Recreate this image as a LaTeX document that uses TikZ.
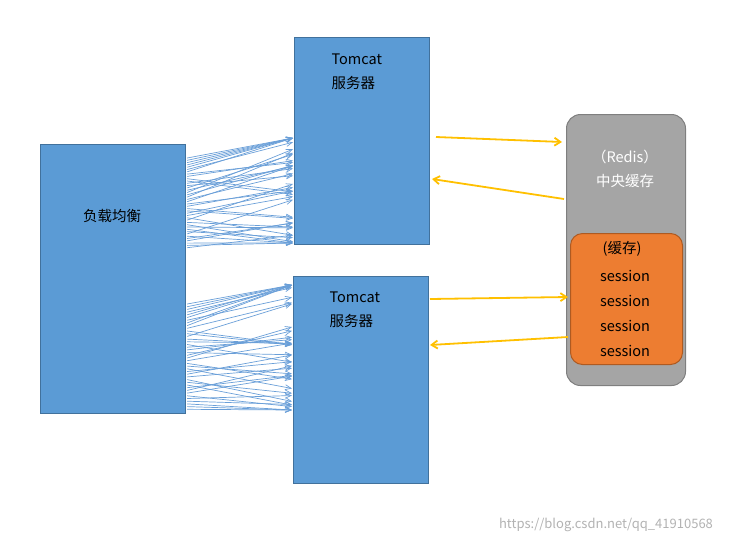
\documentclass[tikz,border=0pt]{standalone}
\usepackage{fontspec}
\setmainfont{Noto Sans CJK SC}
\usetikzlibrary{arrows.meta,calc}
\definecolor{bfill}{HTML}{5B9BD5}
\definecolor{bdraw}{HTML}{41719C}
\definecolor{gfill}{HTML}{A5A5A5}
\definecolor{gdraw}{HTML}{7F7F7F}
\definecolor{ofill}{HTML}{ED7D31}
\definecolor{odraw}{HTML}{AE5A21}
\definecolor{yarr}{HTML}{FFC000}
\definecolor{fan}{HTML}{6A9FD8}
\begin{document}
\begin{tikzpicture}[x=1pt,y=-1pt,font=\fontsize{14.5}{24}\selectfont,
  box/.style={draw=bdraw,fill=bfill,line width=1.2pt,anchor=north west,inner sep=0},
  yl/.style={draw=yarr,line width=1.8pt,-{Straight Barb[length=6pt,width=8pt]}},
  fa/.style={draw=fan,line width=0.7pt,-{Straight Barb[length=6pt,width=5pt]}}]
\useasboundingbox (0,0) rectangle (738,544);
\node[box,minimum width=145pt,minimum height=269pt] (lb) at (40,144) {};
\node[box,minimum width=135pt,minimum height=207pt] (t1) at (294,37) {};
\node[box,minimum width=135pt,minimum height=207pt] (t2) at (293,276) {};
\node[draw=gdraw,fill=gfill,rounded corners=14pt,line width=1pt,anchor=north west,minimum width=119pt,minimum height=271pt,inner sep=0] (rd) at (566,114) {};
\node[draw=odraw,fill=ofill,rounded corners=12pt,line width=1pt,anchor=north west,minimum width=112pt,minimum height=131pt,inner sep=0] (or) at (570,233) {};
\node (lbt) at (112,216) {负载均衡};
\node[align=left,anchor=west] (t1t) at (328,72) {Tomcat\\服务器};
\node[align=left,anchor=west] (t2t) at (326,310) {Tomcat\\服务器};
\node[white] (r1) at (625,157) {（Redis）};
\node[white] (r2) at (625,181) {中央缓存};
\node (o1) at (622,249) {(缓存)};
\foreach \y/\n in {276/a,301/b,326/c,351/d} \node (s\n) at (625,\y) {session};
\node[text=gray!60,font=\fontsize{13}{14}\selectfont] (wm) at (606,525) {https://blog.csdn.net/qq\_41910568};
\foreach \i in {0,...,39}{
  \pgfmathsetmacro\ra{mod(\i*37+mod(\i*\i,41)*11+5,41)/40-0.5}
  \pgfmathsetmacro\rb{mod(\i*23+mod(\i*\i,43)*7+13,43)/42-0.5}
  \pgfmathsetmacro\sa{14+\i*2.3}
  \pgfmathsetmacro\ea{max(101,min(206,(\sa-14)*1.15+101+\ra*60))}
  \pgfmathsetmacro\sb{160+\i*2.7}
  \pgfmathsetmacro\eb{max(9,min(134,(\sb-160)*1.2+9+\rb*60))}
  \coordinate (fa\i) at ($(lb.north east)+(1,\sa)$);
  \coordinate (fb\i) at ($(t1.north west)+(-1,\ea)$);
  \coordinate (ga\i) at ($(lb.north east)+(1,\sb)$);
  \coordinate (gb\i) at ($(t2.north west)+(-1,\eb)$);
  \draw[fa] (fa\i) -- (fb\i);
  \draw[fa] (ga\i) -- (gb\i);
}
\coordinate (y1a) at (436,137); \coordinate (y1b) at (562,142);
\coordinate (y2a) at (564,199); \coordinate (y2b) at (432,179);
\coordinate (y3a) at (430,299); \coordinate (y3b) at (568,297);
\coordinate (y4a) at (568,337); \coordinate (y4b) at (430,345);
\draw[yl] (y1a) -- (y1b);
\draw[yl] (y2a) -- (y2b);
\draw[yl] (y3a) -- (y3b);
\draw[yl] (y4a) -- (y4b);
\end{tikzpicture}
\end{document}
